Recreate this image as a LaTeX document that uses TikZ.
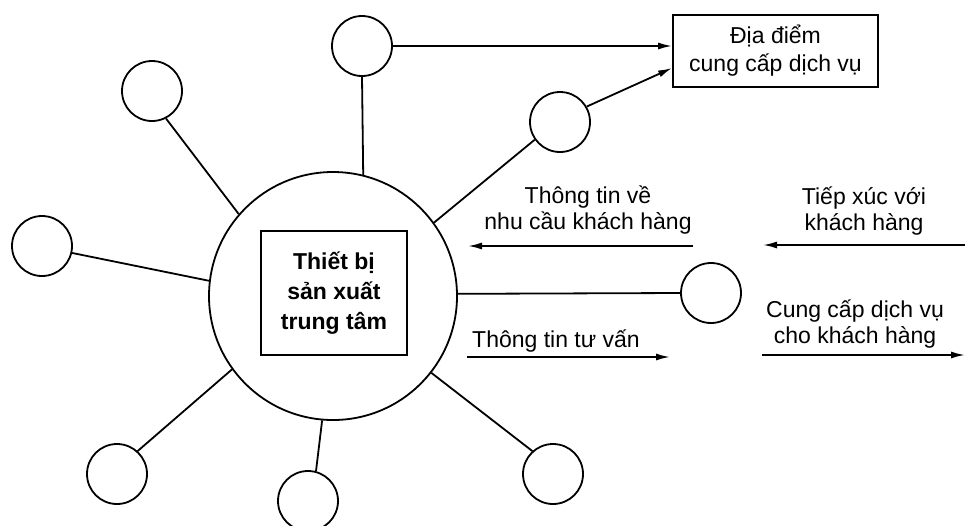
\documentclass[tikz,border=0pt]{standalone}
\usepackage{fontspec}
\setmainfont{Liberation Sans}
\usetikzlibrary{arrows.meta}
\begin{document}
\begin{tikzpicture}[x=1pt,y=-1pt,
  ln/.style={line width=1.8pt},
  sat/.style={circle,draw,line width=1.8pt,minimum size=60pt,inner sep=0pt},
  hub/.style={circle,draw,line width=1.8pt,minimum size=248pt,inner sep=0pt},
  boxnode/.style={draw,line width=1.8pt,inner sep=0pt,align=center},
  lbl/.style={font=\fontsize{23}{26}\selectfont,align=center,anchor=base,inner sep=0pt},
  arr/.style={line width=1.8pt,-{Latex[length=14pt,width=7pt]}}
]
\clip (0,0) rectangle (965,525);
% hub and centre box
\node[hub] (B) at (333,296) {};
\node[boxnode,minimum width=146pt,minimum height=124pt,font=\bfseries\fontsize{23}{30}\selectfont] (I) at (334,293) {Thiết bị\\sản xuất\\trung tâm};
% satellites
\node[sat] (T)  at (362,46)  {};
\node[sat] (UL) at (152,91)  {};
\node[sat] (L)  at (42,246)  {};
\node[sat] (BL) at (117,474) {};
\node[sat] (Bo) at (308,501) {};
\node[sat] (BR) at (553,474) {};
\node[sat] (R)  at (711,293) {};
\node[sat] (UR) at (560,122) {};
% service location box
\node[boxnode,minimum width=205pt,minimum height=72pt,font=\fontsize{23}{28}\selectfont] (D) at (775.5,51) {Địa điểm\\cung cấp dịch vụ};
% spokes
\draw[ln] (T.south) -- (B.76.5);
\draw[ln] (UL.297) -- (B.139.8);
\draw[ln] (L.-13) -- (B.173.5);
\draw[ln] (BL.48.8) -- (B.216.8);
\draw[ln] (Bo.75.5) -- (B.265.4);
\draw[ln] (BR.132.5) -- (B.322.8);
\draw[ln] (B.1.4) -- (R.west);
\draw[ln] (UR.215) -- (B.36.5);
% arrows to the service location
\draw[arr] (T.east) -- (T.east -| D.west);
\draw[arr] (UR.30.4) -- ([yshift=-17pt]D.west);
% labels (base anchor = baseline of the last line)
\node[lbl] (N1) at (588,229) {Thông tin về\\nhu cầu khách hàng};
\node[lbl] (N2) at (864,230) {Tiếp xúc với\\khách hàng};
\node[lbl] (N3) at (855,343) {Cung cấp dịch vụ\\cho khách hàng};
\node[lbl] (N4) at (556,347) {Thông tin tư vấn};
% free arrows
\coordinate (a1s) at (693,246); \coordinate (a1e) at (468,246);
\coordinate (a2s) at (965,245); \coordinate (a2e) at (763,245);
\coordinate (a3s) at (467,357); \coordinate (a3e) at (670,357);
\coordinate (a4s) at (762,355); \coordinate (a4e) at (965,355);
\draw[arr] (a1s) -- (a1e);
\draw[arr] (a2s) -- (a2e);
\draw[arr] (a3s) -- (a3e);
\draw[arr] (a4s) -- (a4e);
\end{tikzpicture}
\end{document}
